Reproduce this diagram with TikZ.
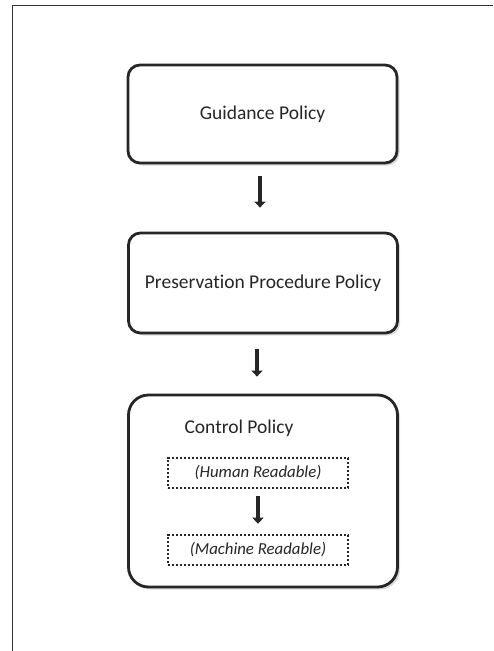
\documentclass[tikz,border=0pt]{standalone}
\usepackage{fontspec}
\setmainfont{Carlito}[Ligatures=NoCommon]
\usetikzlibrary{arrows.meta}
\usetikzlibrary{shadows}
\pgfdeclarelayer{edgelayer}
\pgfdeclarelayer{nodelayer}
\pgfsetlayers{edgelayer,nodelayer,main}
\tikzstyle{policy}=[rectangle,rounded corners=12pt,fill=white,draw=black!85,line width=2.8pt,drop shadow={shadow xshift=2.5pt,shadow yshift=-2.5pt,opacity=0.35,fill=black!40},font=\fontsize{19.5}{23}\selectfont,text=black!85,minimum width=269pt]
\tikzstyle{readable}=[rectangle,draw=black!85,line width=2.6pt,dash pattern=on 2.4pt off 1.6pt,minimum width=180pt,minimum height=30pt,font=\fontsize{16.8}{20}\selectfont\itshape,text=black!85]
\tikzstyle{step arrow}=[-{Triangle[width=11pt,length=6pt]},draw=black!85,line width=4.5pt]

\begin{document}
\begin{tikzpicture}[x=1pt,y=-1pt]
	\useasboundingbox (0,0) rectangle (493,651);
	\draw [black!80, line width=1pt] (493,5) -- (12,5) -- (12,651);
	\begin{pgfonlayer}{nodelayer}
		\node [style=policy, minimum height=98pt] (0) at (262.5, 114) {Guidance Policy};
		\node [style=policy, minimum height=100pt] (1) at (263, 283) {Preservation Procedure Policy};
		\node [style=policy, rounded corners=20pt, minimum height=192pt] (2) at (263, 491) {};
		\node [font=\fontsize{19.5}{23}\selectfont, text=black!85] (3) at (239, 428) {Control Policy};
		\node [style=readable] (4) at (258, 473) {(Human Readable)};
		\node [style=readable] (5) at (258, 550) {(Machine Readable)};
	\end{pgfonlayer}
	\begin{pgfonlayer}{edgelayer}
		\draw [style=step arrow, shorten <=12pt, shorten >=24pt] ([xshift=-2.5pt]0.south) to ([xshift=-3pt]1.north);
		\draw [style=step arrow, shorten <=15pt, shorten >=17pt] ([xshift=-6pt]1.south) to ([xshift=-6pt]2.north);
	\end{pgfonlayer}
	\draw [style=step arrow, shorten <=7pt, shorten >=10pt] (4) to (5);
\end{tikzpicture}
\end{document}
